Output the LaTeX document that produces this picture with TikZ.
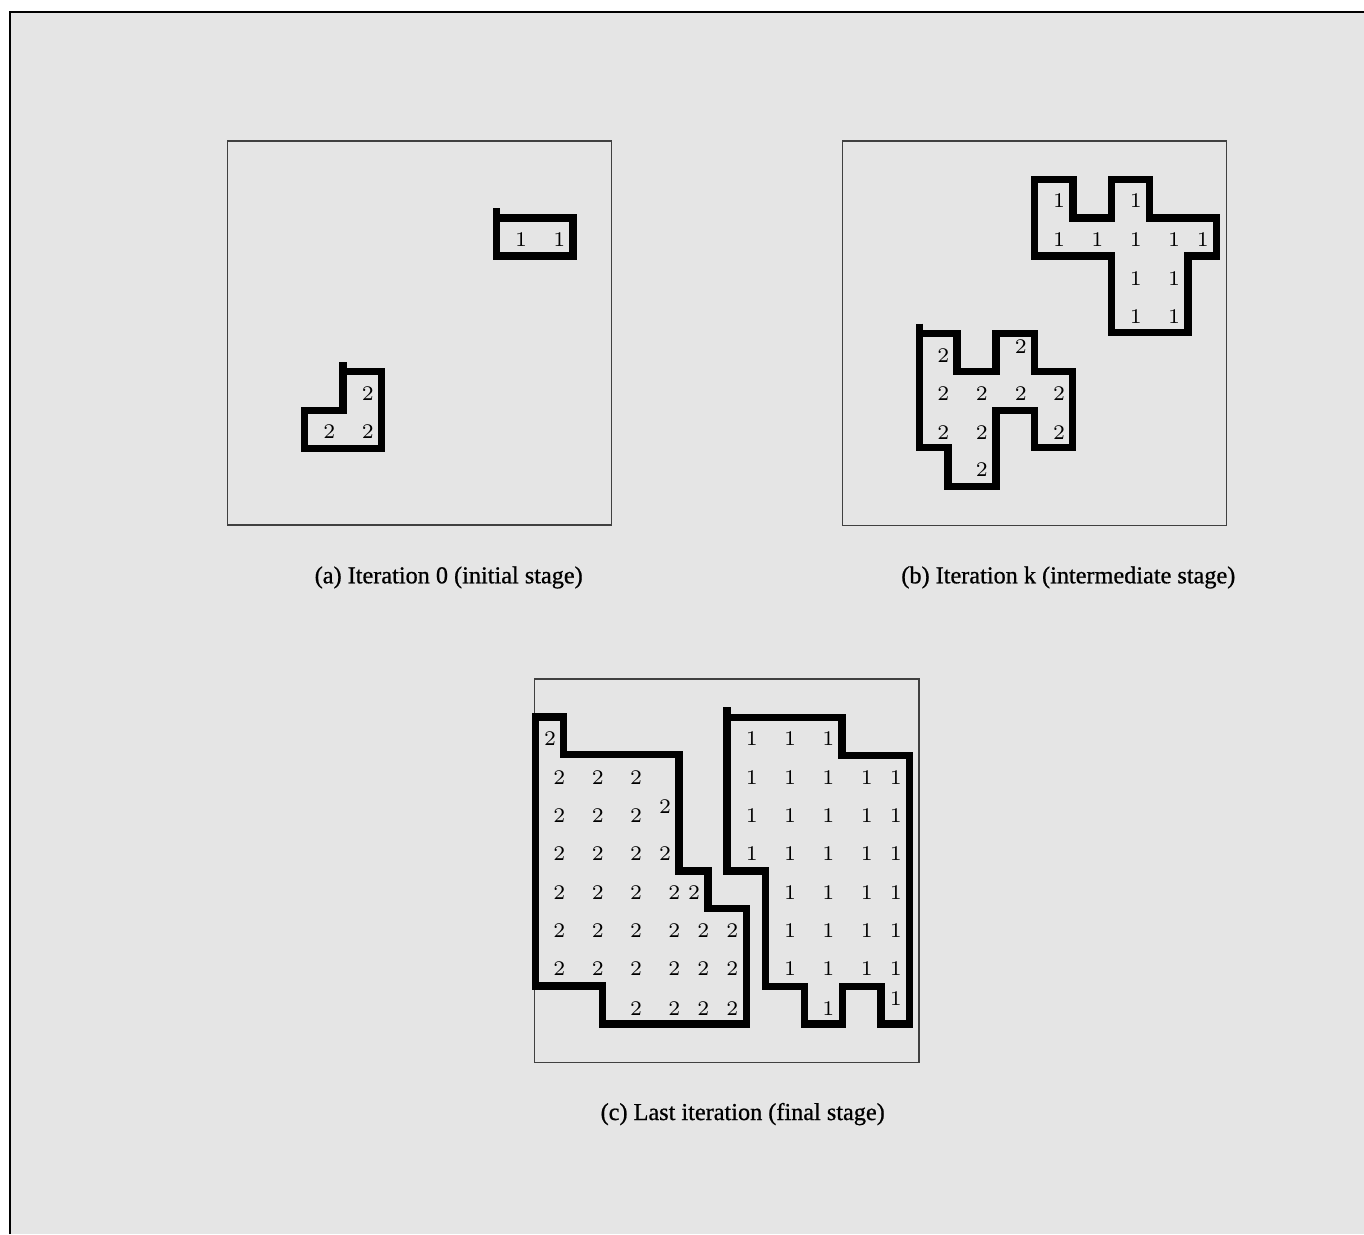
\documentclass[tikz,border=0pt]{standalone}
\usepackage{fontspec}
\newfontfamily\capfont[FakeBold=0.8]{Liberation Serif}
\newfontfamily\numfont{lmroman7-regular.otf}
\usepackage{tikz}
\definecolor{panelgray}{RGB}{229,229,229}

\tikzset{
    panelbox/.style={draw=black!75, line width=0.6pt},
    region/.style={draw=black, line width=4.2pt},
    cellnum/.style={inner sep=0pt, font=\numfont\fontsize{11.9}{14}\selectfont},
    caption/.style={anchor=base, inner sep=0pt, font=\capfont\fontsize{13.8}{16}\selectfont},
}

\begin{document}
\begin{tikzpicture}[x=0.02cm, y=-0.02cm]

    \useasboundingbox (0,0) rectangle (1364,1234);

    % === Background and frame ===
    \fill[panelgray] (10,12) rectangle (1364,1234);
    \draw[line width=1.1pt] (10,1234) -- (10,12) -- (1364,12);

    % === Panel (a): iteration 0 ===
    \draw[panelbox] (227.7,141) rectangle (611.7,525);

    % Region 1
    \draw[region] (496.3,208) -- (496.3,256) -- (573,256) -- (573,218) -- (496.3,218);
    \foreach \x/\y [count=\i] in {521/240, 559.3/240}
        \node[cellnum] (aone\i) at (\x,\y) {1};

    % Region 2
    \draw[region] (343,362) -- (343,410.3) -- (304.7,410.3) -- (304.7,448.3)
        -- (381.2,448.3) -- (381.2,371.3) -- (343,371.3);
    \foreach \x/\y [count=\i] in {367.7/393.3, 329.3/431.7, 367.7/431.7}
        \node[cellnum] (atwo\i) at (\x,\y) {2};

    \node[caption] (capa) at (448.7,583.3) {(a) Iteration 0 (initial stage)};

    % === Panel (b): iteration k ===
    \draw[panelbox] (842.3,141) rectangle (1226.7,525.7);

    % Region 1
    \draw[region] (1034.5,179.5) -- (1072.8,179.5) -- (1072.8,218) -- (1111.2,218)
        -- (1111.2,179.5) -- (1149.5,179.5) -- (1149.5,218) -- (1216.3,218)
        -- (1216.3,256) -- (1187.8,256) -- (1187.8,332.8) -- (1111.2,332.8)
        -- (1111.2,256) -- (1034.5,256) -- cycle;
    \foreach \x/\y [count=\i] in {1059/201, 1135.7/201,
            1059/240, 1097.3/240, 1135.7/240, 1174/240, 1202.7/240,
            1135.7/278.3, 1174/278.3, 1135.7/316.7, 1174/316.7}
        \node[cellnum] (bone\i) at (\x,\y) {1};

    % Region 2
    \draw[region] (919.2,323.5) -- (919.2,447.8) -- (948,447.8) -- (948,486.3)
        -- (995.8,486.3) -- (995.8,410.3) -- (1034.2,410.3) -- (1034.2,447.8)
        -- (1072.2,447.8) -- (1072.2,371.3) -- (1034.2,371.3) -- (1034.2,333.7)
        -- (995.8,333.7) -- (995.8,371.3) -- (957,371.3) -- (957,333.7) -- (919.2,333.7);
    \foreach \x/\y [count=\i] in {943.3/355.7, 1020.7/346.7,
            943.3/394, 981.7/394, 1020.7/394, 1059/394,
            943.3/432.3, 981.7/432.3, 1059/432.3, 981.7/470}
        \node[cellnum] (btwo\i) at (\x,\y) {2};

    \node[caption] (capb) at (1068.3,583.3) {(b) Iteration k (intermediate stage)};

    % === Panel (c): last iteration ===
    \draw[panelbox] (534.7,679) rectangle (919,1062.3);

    % Region 2
    \draw[region] (535.3,717) -- (563.5,717) -- (563.5,754.5) -- (679,754.5)
        -- (679,870.8) -- (708,870.8) -- (708,908.7) -- (746.2,908.7)
        -- (746.2,1023.8) -- (602.7,1023.8) -- (602.7,985.8) -- (535.3,985.8) -- cycle;
    \foreach \x/\y [count=\i] in {550/739,
            559.3/777.3, 597.7/777.3, 636/777.3,
            559.3/815.7, 597.7/815.7, 636/815.7, 665/806.7,
            559.3/854, 597.7/854, 636/854, 665/854,
            559.3/892.7, 597.7/892.7, 636/892.7, 674.3/892.7, 694/892.7,
            559.3/930.7, 597.7/930.7, 636/930.7, 674.3/930.7, 703.3/930.7, 732.3/930.7,
            559.3/969, 597.7/969, 636/969, 674.3/969, 703.3/969, 732.3/969,
            636/1009, 674.3/1009, 703.3/1009, 732.3/1009}
        \node[cellnum] (ctwo\i) at (\x,\y) {2};

    % Region 1
    \draw[region] (727,707.3) -- (727,870.8) -- (765.3,870.8) -- (765.3,986.2)
        -- (804.2,986.2) -- (804.2,1023.8) -- (842.5,1023.8) -- (842.5,986.2)
        -- (880.8,986.2) -- (880.8,1023.8) -- (909.5,1023.8) -- (909.5,755.3)
        -- (842,755.3) -- (842,717.2) -- (727,717.2);
    \foreach \x/\y [count=\i] in {751.7/739, 790/739, 828.3/739,
            751.7/777.3, 790/777.3, 828.3/777.3, 866.7/777.3, 895.7/777.3,
            751.7/815.7, 790/815.7, 828.3/815.7, 866.7/815.7, 895.7/815.7,
            751.7/854, 790/854, 828.3/854, 866.7/854, 895.7/854,
            790/892.7, 828.3/892.7, 866.7/892.7, 895.7/892.7,
            790/930.7, 828.3/930.7, 866.7/930.7, 895.7/930.7,
            790/969, 828.3/969, 866.7/969, 895.7/969,
            828.3/1009, 895.7/998.3}
        \node[cellnum] (cone\i) at (\x,\y) {1};

    \node[caption] (capc) at (742.7,1120) {(c) Last iteration (final stage)};

\end{tikzpicture}
\end{document}
